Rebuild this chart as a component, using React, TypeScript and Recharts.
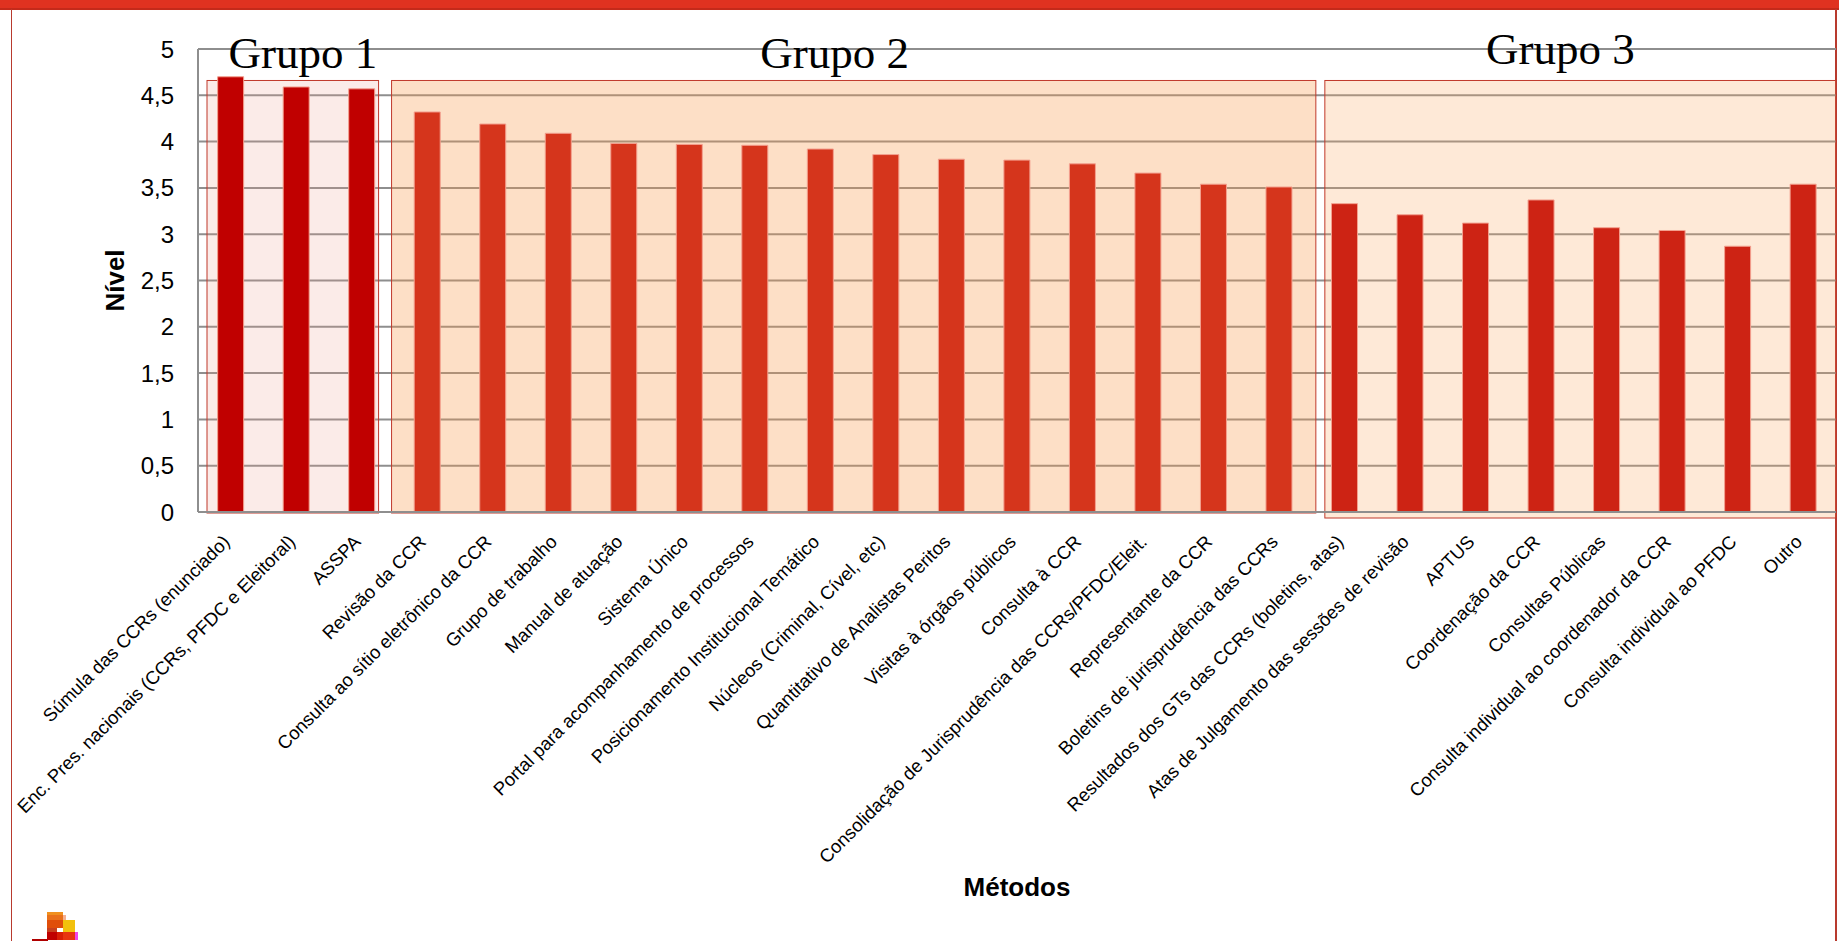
import { BarChart, Bar, XAxis, YAxis, CartesianGrid, ReferenceArea, Cell, Label } from "recharts";

const categories = [
  "Súmula das CCRs (enunciado)",
  "Enc. Pres. nacionais (CCRs, PFDC e Eleitoral)",
  "ASSPA",
  "Revisão da CCR",
  "Consulta ao sítio eletrônico da CCR",
  "Grupo de trabalho",
  "Manual de atuação",
  "Sistema Único",
  "Portal para acompanhamento de processos",
  "Posicionamento Institucional Temático",
  "Núcleos (Criminal, Cível, etc)",
  "Quantitativo de Analistas Peritos",
  "Visitas à órgãos públicos",
  "Consulta à CCR",
  "Consolidação de Jurisprudência das CCRs/PFDC/Eleit.",
  "Representante da CCR",
  "Boletins de jurisprudência das CCRs",
  "Resultados dos GTs das CCRs (boletins, atas)",
  "Atas de Julgamento das sessões de revisão",
  "APTUS",
  "Coordenação da CCR",
  "Consultas Públicas",
  "Consulta individual ao coordenador da CCR",
  "Consulta individual ao PFDC",
  "Outro",
];

const niveis = [
  4.7, 4.59, 4.57, 4.32, 4.19, 4.09, 3.98, 3.97, 3.96, 3.92, 3.86, 3.81, 3.8,
  3.76, 3.66, 3.54, 3.51, 3.33, 3.21, 3.12, 3.37, 3.07, 3.04, 2.87, 3.54,
];

// group of each category (0, 1, 2)
const grupoDe = [0, 0, 0, 1, 1, 1, 1, 1, 1, 1, 1, 1, 1, 1, 1, 1, 1, 2, 2, 2, 2, 2, 2, 2, 2];
const grupos = ["Grupo 1", "Grupo 2", "Grupo 3"];
const yTicks = [0, 0.5, 1, 1.5, 2, 2.5, 3, 3.5, 4, 4.5, 5];
const boxTop = 4.66;

const data = categories.map((c, i) => ({ metodo: c, nivel: niveis[i], grupo: grupoDe[i] }));

const barColors = ["#C00000", "#D5351C", "#CD2314"];
const boxStyles = [
  { fill: "#EB9B8C", op: 0.2, dx1: 9, dx2: -16, dy2: 1, labelDx: 10, labelY: 68 },
  { fill: "#F89946", op: 0.31, dx1: -3, dx2: 4, dy2: 1, labelDx: -19, labelY: 68 },
  { fill: "#FCA860", op: 0.25, dx1: 13, dx2: 0, dy2: 6, labelDx: -20, labelY: 64 },
];

const font = "'Liberation Sans', Arial, sans-serif";

const XTick = (props: any) => {
  const { x, y, payload } = props;
  const ty = y + 31;
  return (
    <text
      x={x}
      y={ty}
      textAnchor="end"
      transform={`rotate(-45, ${x}, ${ty})`}
      fontSize={18.5}
      fontFamily={font}
      fill="#000"
    >
      {payload.value}
    </text>
  );
};

const groupBox = (g: number) => (props: any) => {
  const s = boxStyles[g];
  const x = props.x + s.dx1;
  const w = props.width - s.dx1 + s.dx2;
  const h = props.height + s.dy2;
  return (
    <g>
      <rect
        x={x}
        y={props.y}
        width={w}
        height={h}
        fill={s.fill}
        fillOpacity={s.op}
        stroke="#C0392B"
        strokeWidth={1}
      />
      <text
        x={x + w / 2 + s.labelDx}
        y={s.labelY}
        textAnchor="middle"
        fontSize={45}
        fontFamily="'Liberation Serif', 'Times New Roman', serif"
        fill="#000"
      >
        {grupos[g]}
      </text>
    </g>
  );
};

const NivelLabel = (props: any) => {
  const vb = props.viewBox || { x: 98, y: 49, width: 100, height: 463 };
  const cx = 115;
  const cy = vb.y + vb.height / 2;
  return (
    <text
      x={cx}
      y={cy}
      transform={`rotate(-90, ${cx}, ${cy})`}
      textAnchor="middle"
      dominantBaseline="central"
      fontSize={26}
      fontWeight="bold"
      fontFamily={font}
      fill="#000"
    >
      Nível
    </text>
  );
};

const App = () => {
  const firstOf = (g: number) => categories[grupoDe.indexOf(g)];
  const lastOf = (g: number) => categories[grupoDe.lastIndexOf(g)];
  return (
    <div
      style={{
        position: "absolute",
        left: 0,
        top: 0,
        width: 1839,
        height: 941,
        background: "#fff",
        overflow: "hidden",
      }}
    >
      <div style={{ position: "absolute", left: 0, top: 0, width: 1839, height: 8, background: "#E03220" }} />
      <div style={{ position: "absolute", left: 0, top: 8, width: 1839, height: 2, background: "#C42A1A" }} />
      <div style={{ position: "absolute", left: 11, top: 9, width: 1, height: 932, background: "#B83A2E" }} />
      <div style={{ position: "absolute", left: 1835, top: 9, width: 2, height: 932, background: "#B83A2E" }} />

      <div style={{ position: "absolute", left: 0, top: 0 }}>
        <BarChart
          width={1839}
          height={941}
          data={data}
          margin={{ top: 49, right: 3, bottom: 0, left: 98 }}
          barCategoryGap="30%"
        >
          <CartesianGrid vertical={false} stroke="#8E8E8E" strokeWidth={2} />
          {grupos.map((_, g) => (
            <ReferenceArea
              key={g}
              x1={firstOf(g)}
              x2={lastOf(g)}
              y1={0}
              y2={boxTop}
              ifOverflow="visible"
              shape={groupBox(g)}
            />
          ))}
          <XAxis
            dataKey="metodo"
            interval={0}
            height={429}
            tick={<XTick />}
            tickLine={false}
            tickSize={0}
            tickMargin={0}
            axisLine={{ stroke: "#8E8E8E", strokeWidth: 2 }}
          >
            <Label
              value="Métodos"
              position="insideBottom"
              offset={45}
              style={{ fontSize: 26, fontWeight: "bold", fontFamily: font, fill: "#000" }}
            />
          </XAxis>
          <YAxis
            type="number"
            domain={[0, 5]}
            ticks={yTicks}
            width={100}
            tickLine={false}
            tickSize={0}
            tickMargin={24}
            axisLine={{ stroke: "#8E8E8E", strokeWidth: 2 }}
            tickFormatter={(v: number) => String(v).replace(".", ",")}
            tick={{ fontSize: 24, fill: "#000", fontFamily: font }}
          >
            <Label content={<NivelLabel />} />
          </YAxis>
          <Bar dataKey="nivel" isAnimationActive={false} stroke="#F3A08F" strokeWidth={1}>
            {data.map((d, i) => (
              <Cell key={i} fill={barColors[d.grupo]} />
            ))}
          </Bar>
        </BarChart>
      </div>

      {/* logo */}
      <div style={{ position: "absolute", left: 32, top: 939, width: 16, height: 2, background: "#B00000" }} />
      <div style={{ position: "absolute", left: 47, top: 912, width: 16, height: 3, background: "#F0901E" }} />
      <div style={{ position: "absolute", left: 47, top: 915, width: 16, height: 5, background: "#E9701A" }} />
      <div style={{ position: "absolute", left: 63, top: 915, width: 3, height: 5, background: "#F5B090" }} />
      <div style={{ position: "absolute", left: 47, top: 920, width: 16, height: 8, background: "#E04E0A" }} />
      <div style={{ position: "absolute", left: 63, top: 920, width: 12, height: 12, background: "#F2C10D" }} />
      <div style={{ position: "absolute", left: 47, top: 928, width: 10, height: 4, background: "#C8401E" }} />
      <div style={{ position: "absolute", left: 47, top: 932, width: 10, height: 8, background: "#C00000" }} />
      <div style={{ position: "absolute", left: 57, top: 932, width: 6, height: 8, background: "#D81E05" }} />
      <div style={{ position: "absolute", left: 63, top: 932, width: 12, height: 8, background: "#E8340F" }} />
      <div style={{ position: "absolute", left: 75, top: 932, width: 3, height: 8, background: "#F046E8" }} />
    </div>
  );
};

export default App;
